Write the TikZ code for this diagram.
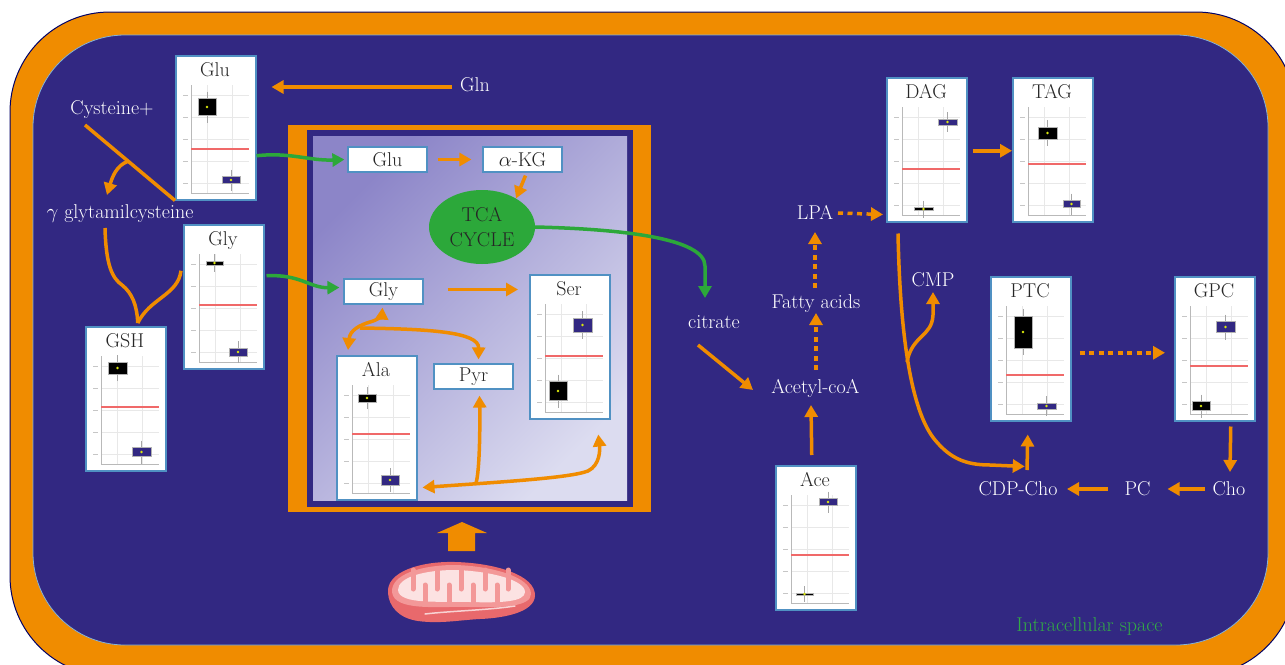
\documentclass[tikz,border=0pt]{standalone}
\usepackage{fontspec}
\usetikzlibrary{arrows.meta,calc,shapes.geometric}
\definecolor{bgb}{RGB}{50,40,130}
\definecolor{orng}{RGB}{240,140,0}
\definecolor{grn}{RGB}{44,168,58}
\definecolor{bord}{RGB}{80,145,195}
\definecolor{lavA}{RGB}{140,133,200}
\definecolor{lavB}{RGB}{220,220,240}
\definecolor{mitoD}{RGB}{232,105,108}
\definecolor{mitoM}{RGB}{243,152,152}
\definecolor{mitoL}{RGB}{252,226,226}
\definecolor{intra}{RGB}{50,170,70}
\definecolor{redc}{RGB}{240,105,105}
\newcommand\fs{\fontsize{20}{24}\selectfont}
\tikzset{
  lbl/.style={text=white, font=\fs, inner sep=0pt, anchor=base},
  ibox/.style={draw=bord, line width=1.2pt, fill=white, minimum width=79pt, minimum height=25pt, inner sep=0pt, font=\fs, text=black!85},
  plotbox/.style={draw=bord, line width=1.5pt, fill=white, minimum width=80pt, minimum height=144pt, inner sep=0pt},
  ptitle/.style={font=\fs, text=black!85, inner sep=0pt},
  oarr/.style={draw=orng, line width=3.5pt, -{Triangle[length=12pt,width=13pt]}},
  oarrb/.style={draw=orng, line width=3.5pt, {Triangle[length=12pt,width=13pt]}-{Triangle[length=12pt,width=13pt]}},
  dotarr/.style={oarr, dash pattern=on 5pt off 4.5pt},
  oline/.style={draw=orng, line width=3.5pt},
  garr/.style={draw=grn, line width=3.5pt, -{Triangle[length=12pt,width=13pt]}},
  gridl/.style={draw=gray!18, line width=0.6pt},
  axisl/.style={draw=gray!55, line width=0.8pt},
  redl/.style={draw=redc, line width=1.5pt},
  whisk/.style={draw=gray!70, line width=0.6pt},
}
% plot frame: name, x, y, title, red line y
\newcommand\plotfr[5]{%
  \node[plotbox, anchor=north west] (#1) at (#2,#3) {};
  \node[ptitle, anchor=base] (#1-t) at (#2+40,#3+21) {#4};
  \begin{scope}[shift={(#2,#3)}]
    \foreach \gy in {40,62,84,106,128} {\draw[gridl] (16,\gy) -- (74,\gy); \draw[gray!45, line width=0.7pt] (8,\gy) -- (13,\gy);}
    \foreach \gx in {32,57} \draw[gridl] (\gx,30) -- (\gx,138);
    \draw[axisl] (16,30) -- (16,138) -- (74,138);
    \draw[redl] (16,#5) -- (74,#5);
  \end{scope}}
% box: plot x, y, x1, x2, yc, h, fill
\newcommand\bxp[7]{%
  \begin{scope}[shift={(#1,#2)}]
    \draw[whisk] ({(#3+#4)/2},{#5-#6/2-7}) -- ({(#3+#4)/2},{#5+#6/2+7});
    \filldraw[fill=#7, draw=gray!60, line width=0.5pt] (#3,{#5-#6/2}) rectangle (#4,{#5+#6/2});
    \fill[yellow!85!green] ({(#3+#4)/2},#5) circle (1.3);
  \end{scope}}
\begin{document}
\begin{tikzpicture}[x=1pt,y=-1pt]
\useasboundingbox (0,0) rectangle (1285,664);
\clip (0,0) rectangle (1285,664);
\fill[white] (0,0) rectangle (1285,664);
% cell
\filldraw[fill=orng, draw=black!60!blue, line width=1pt, rounded corners=100pt] (10,12) rectangle (1296,676);
\filldraw[fill=bgb, draw=bord!70, line width=0.8pt, rounded corners=92pt] (33,35) rectangle (1268,645);
% mitochondrial compartment
\fill[orng] (288,125) rectangle (651,512);
\fill[bgb] (307,130) rectangle (633,507);
\shade[top color=lavA, bottom color=lavB, shading angle=45] (313,136) rectangle (627,500);

% plots
\plotfr{pGlu}{175}{55}{Glu}{94}
\bxp{175}{55}{23}{41}{52}{17}{black}
\bxp{175}{55}{47}{65}{125}{7}{bgb}
\plotfr{pGly}{183}{224}{Gly}{81}
\bxp{183}{224}{23}{40}{39}{4}{black}
\bxp{183}{224}{46}{64}{128}{8}{bgb}
\plotfr{pGSH}{85}{326}{GSH}{81}
\bxp{85}{326}{23}{42}{42}{12}{black}
\bxp{85}{326}{47}{66}{126}{9}{bgb}
\plotfr{pSer}{529}{274}{Ser}{82}
\bxp{529}{274}{20}{38}{117}{19}{black}
\bxp{529}{274}{44}{63}{51}{14}{bgb}
\plotfr{pAla}{336}{355}{Ala}{79}
\bxp{336}{355}{22}{40}{43}{8}{black}
\bxp{336}{355}{45}{63}{125}{10}{bgb}
\plotfr{pDAG}{886}{77}{DAG}{92}
\bxp{886}{77}{28}{47}{132}{3}{black}
\bxp{886}{77}{52}{71}{45}{6}{bgb}
\plotfr{pTAG}{1012}{77}{TAG}{87}
\bxp{1012}{77}{26}{45}{56}{12}{black}
\bxp{1012}{77}{51}{68}{127}{7}{bgb}
\plotfr{pPTC}{990}{276}{PTC}{99}
\bxp{990}{276}{24}{42}{56}{32}{black}
\bxp{990}{276}{47}{66}{130}{6}{bgb}
\plotfr{pGPC}{1174}{276}{GPC}{90}
\bxp{1174}{276}{18}{36}{130}{9}{black}
\bxp{1174}{276}{42}{61}{51}{11}{bgb}
\plotfr{pAce}{775}{465}{Ace}{90}
\bxp{775}{465}{21}{38}{129}{2}{black}
\bxp{775}{465}{44}{62}{37}{7}{bgb}

% inner mito boxes
\node[ibox] (iGlu) at (387.5,159.5) {Glu};
\node[ibox] (iAKG) at (522.5,159.5) {$\alpha$-KG};
\node[ibox] (iGly) at (383.5,291.5) {Gly};
\node[ibox] (iPyr) at (473.5,376.5) {Pyr};
\node[ellipse, fill=grn, minimum width=106pt, minimum height=74pt, inner sep=0pt, font=\fontsize{20}{25}\selectfont, text=black!85, align=center] (TCA) at (482,227) {TCA\\CYCLE};

% labels
\node[lbl] (cys) at (112,114) {Cysteine+};
\node[lbl] (gcys) at (120,218) {$\gamma$ glytamilcysteine};
\node[lbl] (gln) at (475,91) {Gln};
\node[lbl] (cit) at (714,328) {citrate};
\node[lbl] (acoa) at (815.5,393) {Acetyl-coA};
\node[lbl] (fa) at (816,308) {Fatty acids};
\node[lbl] (lpa) at (815,219) {LPA};
\node[lbl] (cmp) at (933,286) {CMP};
\node[lbl] (cho) at (1229,495) {Cho};
\node[lbl] (pc) at (1137.5,495) {PC};
\node[lbl] (cdp) at (1018,495) {CDP-Cho};
\node[lbl, text=intra] (intra) at (1089.5,631) {Intracellular space};

% left side connectors
\draw[oarr] ($(gln.base)+(-23,-4)$) -- ($(pGlu.north east)+(15,32)$);
\draw[oline] ($(cys.base)+(-27,11)$) coordinate (cysA) -- (pGlu.south west) coordinate[pos=0.48] (cysB);
\draw[oarr] (cysB) .. controls +(-12,4) and (112,178) .. ($(gcys.base)+(-13,-23)$);
\draw[oline] ($(gcys.base)+(-15,10)$) .. controls (106,265) and (112,278) .. (122,285) .. controls (132,293) and (137,305) .. ($(pGSH.north)+(12,-3)$);
\draw[oline] ($(pGly.west)+(-2,-26)$) .. controls (178,295) and (150,298) .. ($(pGSH.north)+(12,-3)$);
\draw[garr] ($(pGlu.east)+(0,28)$) .. controls (290,152) and (310,161) .. ($(iGlu.west)+(-3,0)$);
\draw[garr] ($(pGly.east)+(2,-21)$) .. controls (300,274) and (310,288) .. ($(iGly.west)+(-4,-4)$);

% mito connectors
\draw[oarr, shorten <=10pt, shorten >=11pt] (iGlu.east) -- (iAKG.west);
\draw[oarr] ($(iAKG.south)+(3,3)$) -- (TCA.40);
\draw[oarr, shorten <=24pt, shorten >=11pt] ($(iGly.east)+(0,-2)$) -- ($(iGly.east -| pSer.west)+(0,-2)$);
\draw[oarrb] ($(pAla.north west)+(12,-5)$) .. controls (350,330) and (360,325) .. (370,322) .. controls (378,320) and (382,315) .. ($(iGly.south)+(-1,3)$);
\draw[oarr] (360,328) .. controls (430,329) and (479,332) .. ($(iPyr.north)+(5,-4)$);
\draw[oarrb] ($(pAla.south east)+(5,-13)$) .. controls (500,482) and (570,478) .. (588,471) .. controls (600,465) and (600,450) .. ($(pSer.south)+(28.5,15)$);
\draw[oarr] (476,483) .. controls (480,470) and (480,420) .. ($(iPyr.south)+(6,6)$);
\draw[garr] (TCA.east) .. controls (620,229) and (705,238) .. (705,266) -- ($(cit.base)+(-9,-30)$);

% right side connectors
\draw[oarr] ($(cit.base)+(-16,17)$) -- ($(acoa.base)+(-62.5,-3)$);
\draw[oarr] ($(pAce.north)+(-4,-10)$) -- ($(acoa.base)+(-4.5,12)$);
\draw[dotarr] ($(acoa.base)+(0.5,-23)$) -- ($(fa.base)+(0,5)$);
\draw[dotarr] ($(fa.base)+(-1,-20)$) -- ($(lpa.base)+(0,13)$);
\draw[dotarr] ($(lpa.base)+(23,-6)$) -- ($(pDAG.south west)+(-3,-8)$);
\draw[oarr] ($(pDAG.east)+(5,1)$) -- ($(pTAG.west)+(0,1)$);
\draw[oarr] ($(pDAG.south west)+(12,11)$) .. controls (900,330) and (910,410) .. (935,440) .. controls (950,458) and (965,465) .. (990,465) -- ($(pPTC.south)+(-6,45)$);
\draw[oarr] (907,362) .. controls (912,335) and (932,337) .. (933,315) -- ($(cmp.base)+(0,6)$);
\draw[dotarr] ($(pPTC.east)+(8,4)$) -- ($(pGPC.west)+(-9,4)$);
\draw[oarr] ($(pGPC.south)+(16,5)$) -- ($(cho.base)+(1,-23)$);
\draw[oarr] ($(cho.base)+(-24,-6)$) -- ($(pc.base)+(30,-6)$);
\draw[oarr] ($(pc.base)+(-30,-6)$) -- ($(cdp.base)+(49,-6)$);
\draw[oarr] ($(cdp.base)+(9,-25)$) -- ($(pPTC.south)+(-3,13)$);

% up arrow
\fill[orng] (448,551) -- (448,533) -- (437,533) -- (462,522) -- (487,533) -- (475,533) -- (475,551) -- cycle;
% mitochondrion
\fill[mitoD] (388,593) .. controls (386,572) and (420,561) .. (455,562) .. controls (495,563) and (536,575) .. (535,596) .. controls (534,612) and (505,618) .. (480,619) .. controls (460,620) and (440,624) .. (418,621) .. controls (398,618) and (389,606) .. (388,593) -- cycle;
\fill[mitoM] (392,592) .. controls (391,574) and (422,565) .. (455,565) .. controls (492,566) and (531,577) .. (531,594) .. controls (531,606) and (505,608) .. (470,607) .. controls (440,606) and (394,612) .. (392,592) -- cycle;
\fill[mitoL] (398,590) .. controls (398,577) and (425,570) .. (455,570) .. controls (490,571) and (525,580) .. (525,592) .. controls (525,602) and (500,603) .. (470,602) .. controls (440,601) and (399,605) .. (398,590) -- cycle;
\foreach \cx in {413,437,461,485,508} \draw[mitoM, line width=5pt, line cap=round] (\cx,570) -- (\cx,589);
\foreach \cx in {425,449,473,497} \draw[mitoM, line width=5pt, line cap=round] (\cx,604) -- (\cx,585);
\draw[white!70!mitoD, line width=1.5pt, line cap=round] (425,614) .. controls (450,611) and (490,610) .. (515,606);
\end{tikzpicture}
\end{document}
